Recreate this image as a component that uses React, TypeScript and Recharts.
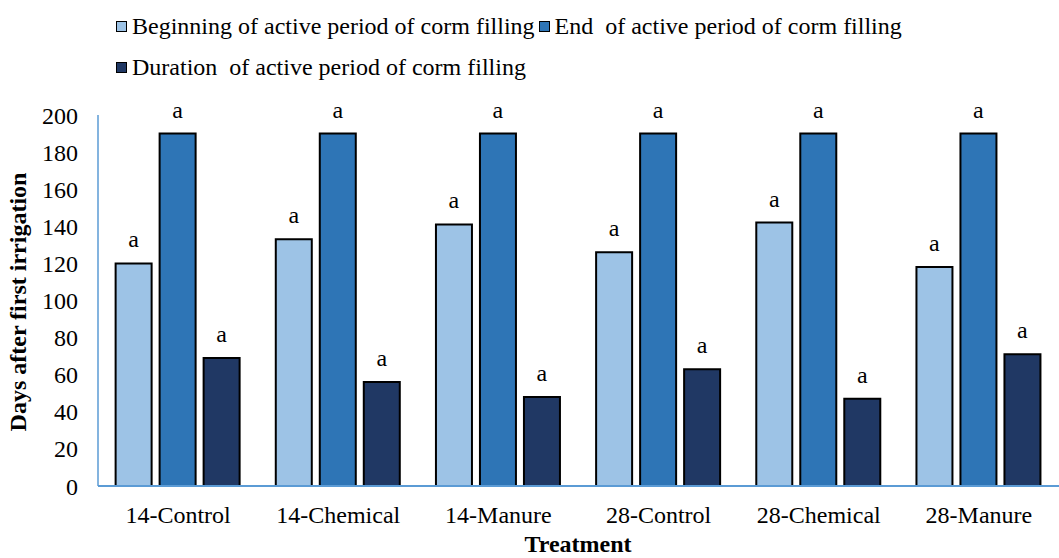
import { BarChart, Bar, XAxis, YAxis, LabelList } from "recharts";

const treatments = ["14-Control", "14-Chemical", "14-Manure", "28-Control", "28-Chemical", "28-Manure"];
const beginning = [120, 133, 141, 126, 142, 118];
const ending = [190, 190, 190, 190, 190, 190];
const duration = [69, 56, 48, 63, 47, 71];
const letters = ["a", "a", "a", "a", "a", "a"];
const yTicks = [0, 20, 40, 60, 80, 100, 120, 140, 160, 180, 200];

const series = [
  { key: "beginning", name: "Beginning of active period of corm filling", color: "#9DC3E6" },
  { key: "ending", name: "End  of active period of corm filling", color: "#2E75B6" },
  { key: "duration", name: "Duration  of active period of corm filling", color: "#203864" },
];

const data = treatments.map((t, i) => ({
  name: t,
  beginning: beginning[i],
  ending: ending[i],
  duration: duration[i],
  letter: letters[i],
}));

const font = "'Liberation Serif', 'Times New Roman', serif";

function LegendBox() {
  const item = (s: typeof series[number]) => (
    <span key={s.key} style={{ display: "inline-flex", alignItems: "center", whiteSpace: "pre" }}>
      <span style={{ width: 9, height: 9, background: s.color, border: "1.5px solid #000", marginRight: 5 }} />
      {s.name}
    </span>
  );
  return (
    <div
      style={{
        position: "absolute",
        top: 6,
        left: 116,
        fontFamily: font,
        fontSize: 24,
        color: "#000",
        lineHeight: "41px",
      }}
    >
      <div style={{ display: "flex", gap: 4 }}>{item(series[0])}{item(series[1])}</div>
      <div style={{ display: "flex" }}>{item(series[2])}</div>
    </div>
  );
}

export default function App() {
  return (
    <div style={{ position: "relative", width: 1059, height: 558, background: "#fff" }}>
      <style>{"body{margin:0}"}</style>
      <BarChart
        width={1059}
        height={558}
        data={data}
        margin={{ top: 115, right: 0, bottom: 0, left: 0 }}
        barCategoryGap="11%"
        barGap={8}
      >
        <XAxis
          dataKey="name"
          height={72}
          tickLine={false}
          axisLine={{ stroke: "#5B9BD5", strokeWidth: 2 }}
          tick={{ fill: "#000", fontSize: 24, fontFamily: font }}
          tickMargin={14}
          interval={0}
          label={{
            content: () => (
              <text x={578} y={552} textAnchor="middle" fontFamily={font} fontSize={24} fontWeight="bold" fill="#000">
                Treatment
              </text>
            ),
          }}
        />
        <YAxis
          width={98}
          domain={[0, 200]}
          ticks={yTicks}
          interval={0}
          tickLine={false}
          axisLine={{ stroke: "#5B9BD5", strokeWidth: 1.5 }}
          tick={{ fill: "#000", fontSize: 24, fontFamily: font }}
          tickMargin={14}
          label={{
            content: () => (
              <text
                x={0}
                y={0}
                transform="translate(26,302) rotate(-90)"
                textAnchor="middle"
                fontFamily={font}
                fontSize={24}
                fontWeight="bold"
                fill="#000"
              >
                Days after first irrigation
              </text>
            ),
          }}
        />
        {series.map((s) => (
          <Bar
            key={s.key}
            dataKey={s.key}
            name={s.name}
            fill={s.color}
            stroke="#000"
            strokeWidth={2}
            isAnimationActive={false}
          >
            <LabelList
              dataKey="letter"
              position="top"
              offset={16}
              style={{ fill: "#000", fontSize: 24, fontFamily: font }}
            />
          </Bar>
        ))}
      </BarChart>
      <LegendBox />
    </div>
  );
}
